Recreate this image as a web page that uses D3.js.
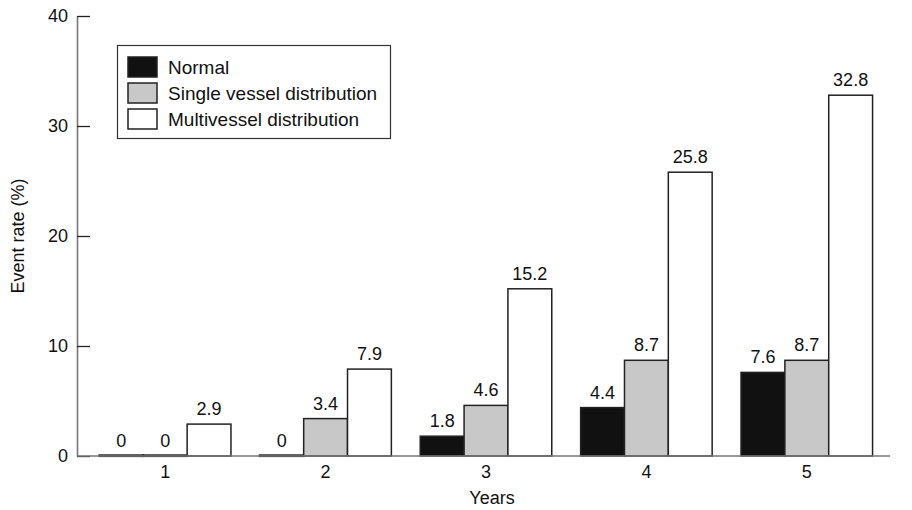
<!DOCTYPE html>
<html><head><meta charset="utf-8">
<script src="https://cdn.jsdelivr.net/npm/d3@7"></script>
<style>
body{margin:0;background:#fff;}
text{font-family:"Liberation Sans",Arial,sans-serif;fill:#111;}
</style></head>
<body><svg id="c" width="912" height="510"></svg>
<script>
const years = ["1","2","3","4","5"];
const seriesNames = ["Normal","Single vessel distribution","Multivessel distribution"];
const normal = [0,0,1.8,4.4,7.6];
const single = [0,3.4,4.6,8.7,8.7];
const multi = [2.9,7.9,15.2,25.8,32.8];
const yTicks = [0,10,20,30,40];
const fills = ["#111111","#c8c8c8","#ffffff"];

const seriesVals = [normal,single,multi];
const svg = d3.select("#c");
const x0 = d3.scaleBand().domain(years).range([85,887]).paddingInner(0.18).paddingOuter(0.09);
const x1 = d3.scaleBand().domain(seriesNames).range([0,x0.bandwidth()]);
const y = d3.scaleLinear().domain([0,40]).range([456,16]);

// bars
years.forEach((yr,i)=>{
  seriesNames.forEach((s,j)=>{
    const v = seriesVals[j][i];
    const bx = x0(yr)+x1(s);
    const top = y(v);
    const h = Math.max(y(0)-top, 0.6);
    svg.append("rect").attr("x",bx).attr("y",y(0)-h).attr("width",x1.bandwidth()).attr("height",h)
      .attr("fill",fills[j]).attr("stroke","#222").attr("stroke-width",v===0?2.2:1.5);
    svg.append("text").attr("x",bx+x1.bandwidth()/2).attr("y",top-9)
      .attr("text-anchor","middle").attr("font-size",18).text(v);
  });
});

// y axis
const ya = svg.append("g").attr("transform","translate(77,0)")
  .call(d3.axisLeft(y).tickValues(yTicks).tickSizeInner(-13).tickSizeOuter(0).tickPadding(9));
ya.select(".domain").attr("stroke","#777").attr("stroke-width",1.6);
ya.selectAll(".tick line").attr("stroke","#222").attr("stroke-width",1.3);
ya.selectAll(".tick text").attr("font-size",18).attr("font-family","Liberation Sans, Arial, sans-serif").attr("fill","#111");

// x axis
const xa = svg.append("g").attr("transform","translate(0,456)")
  .call(d3.axisBottom(x0).tickSize(0).tickPadding(9));
xa.select(".domain").remove();
xa.selectAll(".tick text").attr("font-size",18).attr("font-family","Liberation Sans, Arial, sans-serif").attr("fill","#111");
svg.append("line").attr("x1",77).attr("x2",890).attr("y1",y(0)).attr("y2",y(0))
  .attr("stroke","#777").attr("stroke-width",1.6);

// titles
svg.append("text").attr("x",471+21).attr("y",504).attr("text-anchor","middle").attr("font-size",18).text("Years");
svg.append("text").attr("transform","translate(24,236) rotate(-90)").attr("text-anchor","middle")
  .attr("font-size",18).text("Event rate (%)");

// legend
const lg = svg.append("g");
lg.append("rect").attr("x",117.5).attr("y",45.5).attr("width",273).attr("height",93)
  .attr("fill","#fff").attr("stroke","#333").attr("stroke-width",1.2);
seriesNames.forEach((s,j)=>{
  const ry = 57 + j*26;
  lg.append("rect").attr("x",128).attr("y",ry).attr("width",29).attr("height",20)
    .attr("fill",fills[j]).attr("stroke","#222").attr("stroke-width",1.5);
  lg.append("text").attr("x",168).attr("y",ry+10).attr("dy","0.36em").attr("font-size",19).text(s);
});
</script></body></html>
